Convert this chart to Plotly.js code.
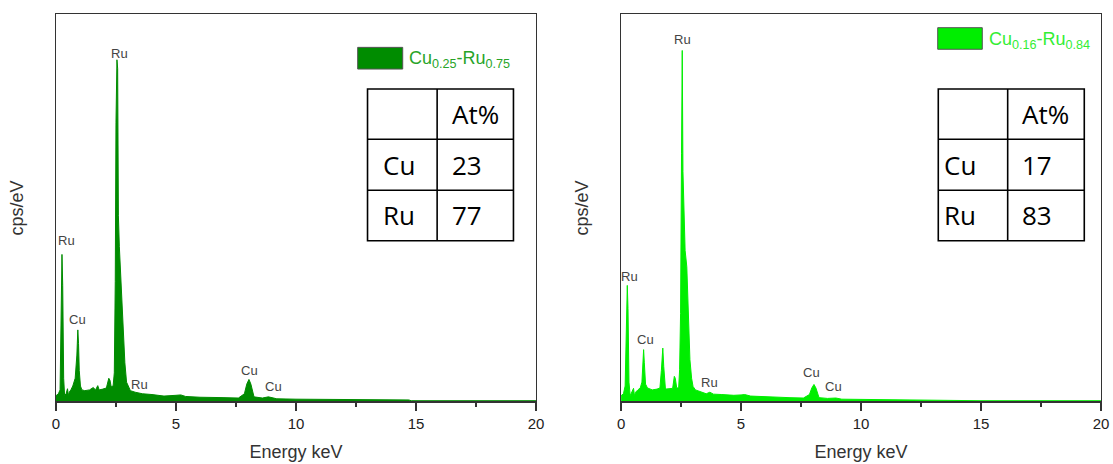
<!DOCTYPE html>
<html>
<head>
<meta charset="utf-8">
<script src="https://cdn.plot.ly/plotly-3.0.1.min.js"></script>
<style>html,body{margin:0;padding:0;background:#fff;}#chart{width:1113px;height:464px;}</style>
</head>
<body>
<div id="chart"></div>
<script>
// ---- Data ----
const energyA = [0,0.1,0.17,0.22,0.25,0.28,0.32,0.36,0.42,0.48,
  0.52,0.56,0.62,0.7,0.8,0.87,0.91,0.94,0.97,1.02,
  1.08,1.2,1.4,1.55,1.65,1.74,1.8,1.95,2.1,2.2,
  2.25,2.3,2.38,2.43,2.47,2.5,2.54,2.57,2.6,2.64,
  2.68,2.73,2.8,2.87,2.94,3.0,3.1,3.3,3.6,4.0,
  4.5,5.0,5.2,5.4,6.0,7.0,7.6,7.85,7.95,8.04,
  8.12,8.25,8.6,8.85,8.95,9.2,10,11,12,13,
  14,14.7,14.8,20];
const countsA = [1.5,2.0,3,20,38,30,6,1.5,2.0,3.3,
  1.5,2.5,3,4,6,12,18.5,15,8,4,
  3,2.8,3.0,3.6,3.0,4.1,3.0,3.2,3.5,6.0,
  5.5,3.8,4,7.4,31,72,88.3,86,48,40,
  34,28,20,10,5,4,2.8,2.4,2.0,1.8,
  1.4,1.6,1.7,1.3,1.1,1.0,0.9,2,4.5,5.7,
  4.5,1.2,0.9,1.2,1.1,0.7,0.6,0.55,0.5,0.45,
  0.4,0.4,0.2,0.2];

const energyB = [0,0.1,0.17,0.22,0.26,0.29,0.33,0.38,0.45,0.52,
  0.56,0.62,0.7,0.8,0.87,0.91,0.94,0.97,1.02,1.1,
  1.3,1.5,1.62,1.68,1.74,1.78,1.85,2.0,2.15,2.22,
  2.26,2.32,2.4,2.44,2.48,2.52,2.55,2.58,2.62,2.67,
  2.74,2.8,2.87,2.94,3.0,3.1,3.3,3.55,3.7,3.85,
  4.2,4.7,5.0,5.15,5.4,6.0,7.0,7.6,7.85,7.95,
  8.04,8.12,8.25,8.6,8.85,8.95,9.2,10,11,12,
  13,14,14.9,15.0,20];
const countsB = [1.5,2.0,4,18,30,24,5,1.5,2.5,3.4,
  1.5,2.5,3,3.5,5,10,13.4,10,4.5,3.5,
  3.0,3.2,3.5,8,13.8,9,3.2,3.3,3.4,6.5,
  6,3.5,3.5,8.2,22.7,64,90.7,59.4,50,39,
  34.8,21,10.8,6,3.9,3,2.5,2.0,2.4,1.9,
  1.8,1.6,1.7,1.8,1.4,1.2,1.0,0.9,1.8,3.5,
  4.4,3.5,1.0,0.8,1.0,0.9,0.6,0.55,0.5,0.45,
  0.35,0.3,0.3,0.2,0.2];

// peak labels
const peakLabelsA = ['Ru','Ru','Cu','Ru','Cu','Cu'];
const peakXA = [2.63,0.45,0.9,3.47,8.06,9.06];
const peakYA = [89.8,41.6,21.1,4.3,8.1,3.8];
const peakLabelsB = ['Ru','Ru','Cu','Ru','Cu','Cu'];
const peakXB = [2.57,0.35,1.01,3.67,7.92,8.84];
const peakYB = [93.6,32.4,15.9,5.0,7.5,3.8];

const sampleNames = ['Cu<sub>0.25</sub>-Ru<sub>0.75</sub>', 'Cu<sub>0.16</sub>-Ru<sub>0.84</sub>'];
const sampleColors = ['#008c00', '#00ee00'];
const nameColors = ['#28a428', '#33ee33'];

const tableHeader = ['', 'At%'];
const tableElements = ['Cu', 'Ru'];
const atPctA = [23, 77];
const atPctB = [17, 83];

const xTickVals = [0, 5, 10, 15, 20];
const xTitle = 'Energy keV';
const yTitle = 'cps/eV';

// ---- Build ----
const traces = [
  {x: energyA, y: countsA, type: 'scatter', mode: 'lines', fill: 'tozeroy',
   line: {color: sampleColors[0], width: 1}, fillcolor: sampleColors[0], xaxis: 'x', yaxis: 'y', hoverinfo: 'skip'},
  {x: energyB, y: countsB, type: 'scatter', mode: 'lines', fill: 'tozeroy',
   line: {color: sampleColors[1], width: 1}, fillcolor: sampleColors[1], xaxis: 'x2', yaxis: 'y2', hoverinfo: 'skip'}
];

const fontArial = 'Liberation Sans, Arial, sans-serif';
function xax(domain, anchor) {
  return {domain: domain, anchor: anchor, range: [0, 20], tickvals: xTickVals,
    showline: true, mirror: true, linecolor: '#333', linewidth: 1.3,
    ticks: 'outside', ticklen: 8, tickwidth: 1.3, tickcolor: '#333',
    minor: {dtick: 2.5, ticks: 'outside', ticklen: 4, tickwidth: 1.3, tickcolor: '#333'},
    showgrid: false, zeroline: false,
    tickfont: {family: fontArial, size: 15, color: '#222'},
    title: {text: xTitle, font: {family: fontArial, size: 18, color: '#333'}, standoff: 14}};
}
function yax(anchor) {
  return {domain: [0.1347, 0.9688], anchor: anchor, range: [0, 100],
    showline: true, mirror: true, linecolor: '#333', linewidth: 1.3,
    ticks: '', showticklabels: false, showgrid: false, zeroline: false,
    title: {text: yTitle, font: {family: fontArial, size: 18, color: '#333'}, standoff: 26}};
}

const annotations = [];
const shapes = [];
function addPeakLabels(labels, xs, ys, xr, yr) {
  labels.forEach((t, i) => annotations.push({text: t, x: xs[i], y: ys[i], xref: xr, yref: yr,
    showarrow: false, font: {family: fontArial, size: 13, color: '#444'}}));
}
addPeakLabels(peakLabelsA, peakXA, peakYA, 'x', 'y');
addPeakLabels(peakLabelsB, peakXB, peakYB, 'x2', 'y2');

function addLegendAndTable(idx, xr, yr, leg, tab, values) {
  shapes.push({type: 'rect', xref: xr + ' domain', yref: yr + ' domain',
    x0: leg.x0, x1: leg.x1, y0: leg.y0, y1: leg.y1,
    fillcolor: sampleColors[idx], line: {color: '#555', width: 1}});
  annotations.push({text: sampleNames[idx], xref: xr + ' domain', yref: yr + ' domain',
    x: leg.tx, y: leg.ty, xanchor: 'left', yanchor: 'middle', showarrow: false,
    font: {family: fontArial, size: 18, color: nameColors[idx]}});
  const ys = tab.ys; // 4 horizontal line positions top->bottom
  shapes.push({type: 'rect', xref: xr + ' domain', yref: yr + ' domain',
    x0: tab.x0, x1: tab.x1, y0: ys[3], y1: ys[0], line: {color: '#000', width: 1.6}});
  shapes.push({type: 'line', xref: xr + ' domain', yref: yr + ' domain',
    x0: tab.xm, x1: tab.xm, y0: ys[3], y1: ys[0], line: {color: '#000', width: 1.6}});
  [1, 2].forEach(r => shapes.push({type: 'line', xref: xr + ' domain', yref: yr + ' domain',
    x0: tab.x0, x1: tab.x1, y0: ys[r], y1: ys[r], line: {color: '#000', width: 1.6}}));
  const tfont = {family: 'Open Sans, Noto Sans, sans-serif', size: 26, color: '#000'};
  const cells = [[tableHeader[0], tableHeader[1]],
                 [tableElements[0], String(values[0])],
                 [tableElements[1], String(values[1])]];
  cells.forEach((row, r) => {
    const yc = (ys[r] + ys[r + 1]) / 2;
    row.forEach((txt, c) => {
      if (!txt) return;
      annotations.push({text: txt, xref: xr + ' domain', yref: yr + ' domain',
        x: c === 0 ? tab.t0 : tab.t1, y: yc, xanchor: 'left', yanchor: 'middle',
        showarrow: false, font: tfont});
    });
  });
}
const tableYs = [0.8075, 0.6778, 0.5457, 0.4155];
addLegendAndTable(0, 'x', 'y',
  {x0: 0.6285, x1: 0.7223, y0: 0.859, y1: 0.915, tx: 0.732, ty: 0.883},
  {x0: 0.649, xm: 0.794, x1: 0.953, ys: tableYs, t0: 0.6765, t1: 0.82}, atPctA);
addLegendAndTable(1, 'x2', 'y2',
  {x0: 0.6598, x1: 0.7527, y0: 0.9101, y1: 0.9659, tx: 0.762, ty: 0.933},
  {x0: 0.661, xm: 0.8056, x1: 0.9652, ys: tableYs, t0: 0.6695, t1: 0.831}, atPctB);

const layout = {
  width: 1113, height: 464, margin: {l: 0, r: 0, t: 0, b: 0},
  paper_bgcolor: '#fff', plot_bgcolor: '#fff', showlegend: false,
  xaxis: xax([0.0503, 0.4816], 'y'), yaxis: yax('x'),
  xaxis2: xax([0.558, 0.9892], 'y2'), yaxis2: yax('x2'),
  annotations: annotations, shapes: shapes
};
Plotly.newPlot('chart', traces, layout, {staticPlot: true, displayModeBar: false});
</script>
</body>
</html>
